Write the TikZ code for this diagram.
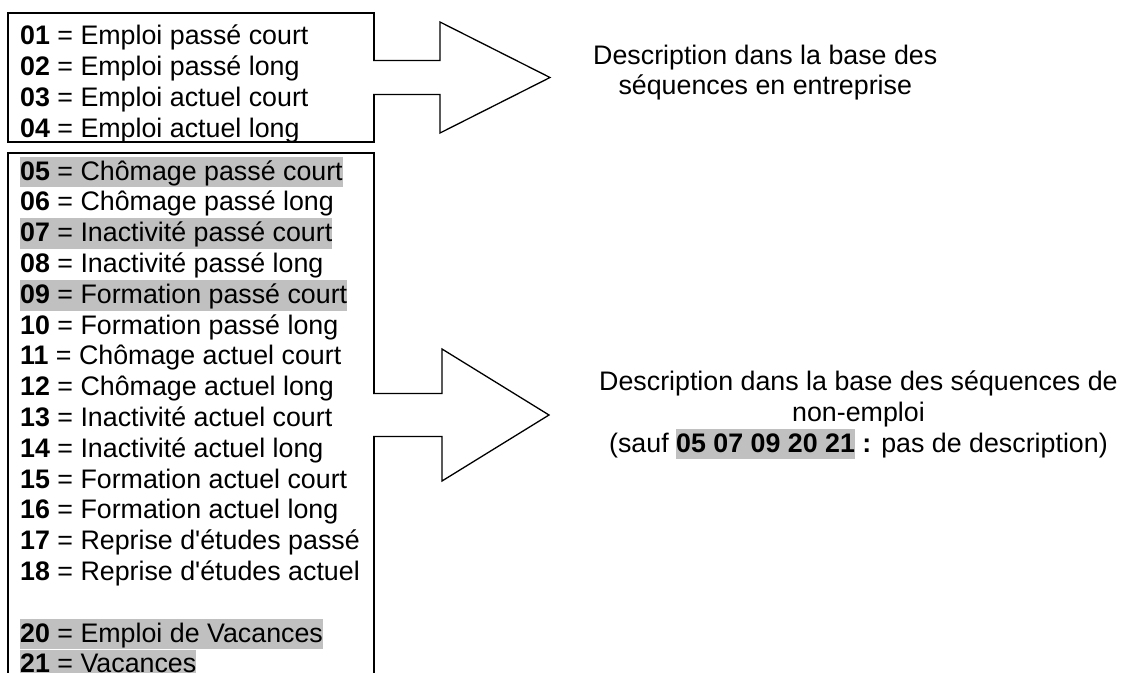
\documentclass[tikz,border=0pt]{standalone}
\usepackage{fontspec}
\setmainfont{Liberation Sans}
\usepackage{xcolor}
\usetikzlibrary{positioning,calc}
\definecolor{markgray}{HTML}{C0C0C0}
\newcommand{\greymark}[1]{{\setlength{\fboxsep}{0pt}\colorbox{markgray}{\vrule height 23.4pt depth 7.2pt width 0pt\relax#1}}}
\tikzset{
  figfont/.style={font=\fontsize{26.8}{30.8}\selectfont},
  codebox/.style={draw, line width=1.3pt, inner sep=0pt, outer sep=0pt, anchor=north west},
  codelist/.style={figfont, align=left, inner sep=0pt, anchor=north west},
  desctext/.style={figfont, align=center, inner sep=0pt, anchor=west},
  blockarrow/.style={draw, fill=white, line width=1.3pt, line join=miter},
}

\begin{document}
\begin{tikzpicture}[x=1pt, y=-1pt]
  \useasboundingbox (0,0) rectangle (1121,672);

  % Code boxes
  \node[codebox, minimum width=366pt, minimum height=129pt] (emploi) at (8,13) {};
  \node[codebox, minimum width=366pt, minimum height=524pt] (nonemploi) at ([yshift=-11pt]emploi.south west) {};

  % Code lists
  \node[codelist] (emploilist) at ([xshift=12pt, yshift=-10pt]emploi.north west) {%
    \strut\textbf{01} = Emploi passé court\\
    \textbf{02} = Emploi passé long\\
    \textbf{03} = Emploi actuel court\\
    \textbf{04} = Emploi actuel long};
  \node[codelist] (nonemploilist) at ([xshift=12pt, yshift=-3.5pt]nonemploi.north west) {%
    \greymark{\textbf{05} = Chômage passé court}\\
    \textbf{06} = Chômage passé long\\
    \greymark{\textbf{07} = Inactivité passé court}\\
    \textbf{08} = Inactivité passé long\\
    \greymark{\textbf{09} = Formation passé court}\\
    \textbf{10} = Formation passé long\\
    \textbf{11} = Chômage actuel court\\
    \textbf{12} = Chômage actuel long\\
    \textbf{13} = Inactivité actuel court\\
    \textbf{14} = Inactivité actuel long\\
    \textbf{15} = Formation actuel court\\
    \textbf{16} = Formation actuel long\\
    \textbf{17} = Reprise d\textquotesingle études passé\\
    \textbf{18} = Reprise d\textquotesingle études actuel\\
    \mbox{}\\
    \greymark{\textbf{20} = Emploi de Vacances}\\
    \greymark{\textbf{21} = Vacances}};

  % Block arrows
  \draw[blockarrow] ($(emploi.east)+(-1,-17)$) -- ++(67,0) -- ++(0,-38.5)
    -- ++(110,55.5) coordinate (emploitip) -- ++(-110,55.5) -- ++(0,-38.5) -- ++(-67,0);
  \draw[blockarrow] ($(nonemploi.east)+(-1,-21.5)$) -- ++(69,0) -- ++(0,-44.5)
    -- ++(107,66) coordinate (nonemploitip) -- ++(-107,66) -- ++(0,-44.5) -- ++(-69,0);

  % Descriptions
  \node[desctext] (emploidesc) at ([xshift=43pt, yshift=5pt]emploitip)
    {Description dans la base des\\séquences en entreprise};
  \node[desctext] (nonemploidesc) at ([xshift=50pt]nonemploitip)
    {Description dans la base des séquences de\\non-emploi\\(sauf \greymark{\textbf{05 07 09 20 21}} \textbf{:} pas de description)};
\end{tikzpicture}
\end{document}
